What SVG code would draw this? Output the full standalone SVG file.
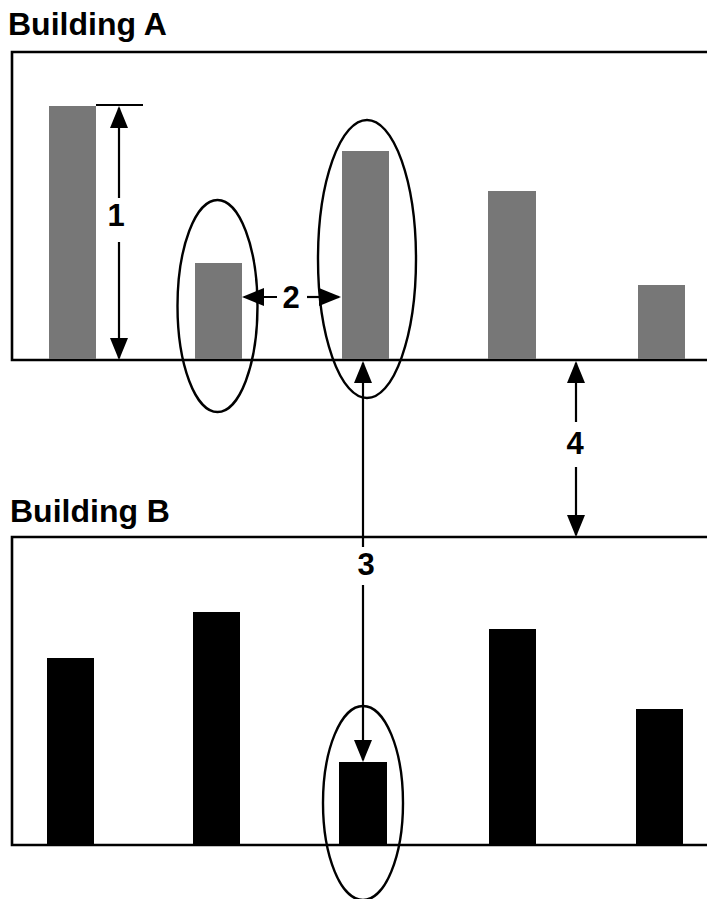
<svg xmlns="http://www.w3.org/2000/svg" width="707" height="899" viewBox="0 0 707 899">
  <defs>
    <style>
      .title { font-family: "Liberation Sans", Arial, sans-serif; font-weight: bold; font-size: 32px; fill: #000; }
      .lbl { font-family: "Liberation Sans", Arial, sans-serif; font-weight: bold; font-size: 31px; fill: #000; text-anchor: middle; }
      .frame { fill: none; stroke: #000; stroke-width: 2.6; }
      .barA { fill: #777777; }
      .barB { fill: #000000; }
      .ell { fill: none; stroke: #000; stroke-width: 2.4; }
      .arr { fill: none; stroke: #000; stroke-width: 2.2; marker-end: url(#ah); }
      .tick { stroke: #000; stroke-width: 2.2; }
    </style>
    <marker id="ah" viewBox="0 0 22 18" refX="20" refY="9" markerWidth="22" markerHeight="18" markerUnits="userSpaceOnUse" orient="auto">
      <path d="M0,0 L22,9 L0,18 z" fill="#000"/>
    </marker>
  </defs>
  <rect width="707" height="899" fill="#fff"/>

  <g id="buildingA">
    <text class="title" x="8" y="35">Building A</text>
    <path class="frame" d="M707,52 L12,52 L12,360 L707,360"/>
  </g>
  <g id="barA1"><rect class="barA" x="49" y="106" width="47" height="253"/></g>
  <g id="barA2"><rect class="barA" x="195" y="263" width="47" height="96"/></g>
  <g id="barA3"><rect class="barA" x="342" y="151" width="47" height="208"/></g>
  <g id="barA4"><rect class="barA" x="488" y="191" width="48" height="168"/></g>
  <g id="barA5"><rect class="barA" x="638" y="285" width="47" height="74"/></g>

  <g id="buildingB">
    <text class="title" x="10" y="522">Building B</text>
    <path class="frame" d="M707,537 L12,537 L12,845 L707,845"/>
  </g>
  <g id="barB1"><rect class="barB" x="47" y="658" width="47" height="187"/></g>
  <g id="barB2"><rect class="barB" x="193" y="612" width="47" height="233"/></g>
  <g id="barB3"><rect class="barB" x="339" y="762" width="48" height="83"/></g>
  <g id="barB4"><rect class="barB" x="489" y="629" width="47" height="216"/></g>
  <g id="barB5"><rect class="barB" x="636" y="709" width="47" height="136"/></g>

  <g id="ellipses">
    <ellipse class="ell" cx="217.5" cy="306" rx="40" ry="106"/>
    <ellipse class="ell" cx="367" cy="259" rx="49" ry="139"/>
    <ellipse class="ell" cx="363" cy="803" rx="40" ry="97"/>
  </g>

  <g id="connectors">
    <line class="tick" x1="96" y1="105" x2="143" y2="105"/>
    <path class="arr" d="M119,198 L119,108"/>
    <path class="arr" d="M119,242 L119,358"/>
    <path class="arr" d="M277,297 L244,297"/>
    <path class="arr" d="M307,297 L339,297"/>
    <path class="arr" d="M363,547 L363,363"/>
    <path class="arr" d="M363,585 L363,760"/>
    <path class="arr" d="M576,422 L576,363"/>
    <path class="arr" d="M576,467 L576,535"/>
  </g>

  <g id="labels">
    <text class="lbl" x="116" y="226">1</text>
    <text class="lbl" x="291" y="308">2</text>
    <text class="lbl" x="366" y="575">3</text>
    <text class="lbl" x="575" y="454">4</text>
  </g>
</svg>
